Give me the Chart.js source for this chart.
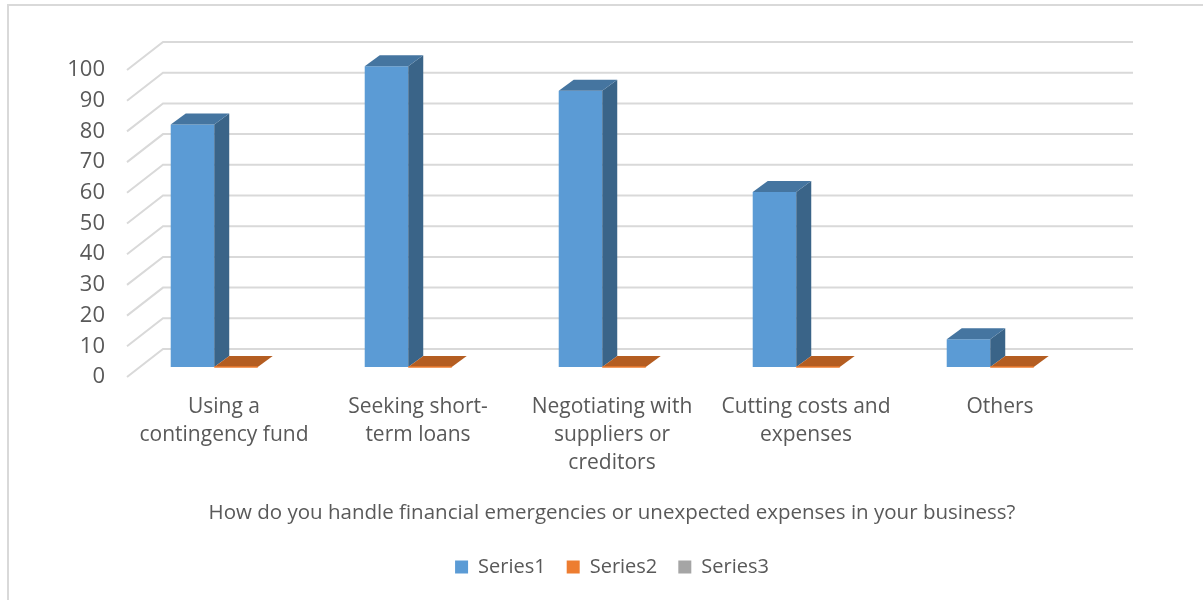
<!DOCTYPE html>
<html>
<head>
<meta charset="utf-8">
<script src="https://cdn.jsdelivr.net/npm/chart.js@4"></script>
<style>
    html, body { margin: 0; padding: 0; background: #fff; overflow: hidden; }
    #wrap { position: relative; width: 1203px; height: 600px; overflow: hidden; }
    #frame { position: absolute; left: 7px; top: 4px; width: 1220px; height: 620px; border: 2px solid #d9d9d9; }
    #myChart { position: absolute; left: 0; top: 0; }
</style>
</head>
<body>
<div id="wrap">
    <div id="frame"></div>
    <canvas id="myChart" width="1203" height="600"></canvas>
</div>
<script>
/*

Column chart with a fake 3D look: back wall grid, bar sides and tops.

*/

// Data
const categories = [
    ['Using a', 'contingency fund'],
    ['Seeking short-', 'term loans'],
    ['Negotiating with', 'suppliers or', 'creditors'],
    ['Cutting costs and', 'expenses'],
    ['Others']
];
const series1 = [79, 98, 90, 57, 9];
const series2 = [0, 0, 0, 0, 0];
const series3 = [null, null, null, null, null];
const yTicks = [0, 10, 20, 30, 40, 50, 60, 70, 80, 90, 100];
const axisTitle = 'How do you handle financial emergencies or unexpected expenses in your business?';

// Depth offsets, measured from the front edge of the floor
const wallBack = { x: 36, y: -28 };
const barPlane = { x: 12, y: -10 };
const barDepth = { x: 15, y: 11 };

const textColor = '#595959';
Chart.defaults.font.family = "'Open Sans', sans-serif";
Chart.defaults.color = textColor;

function fillPoly(ctx, pts) {
    ctx.beginPath();
    ctx.moveTo(pts[0][0], pts[0][1]);
    for (var k = 1; k < pts.length; k++) {
        ctx.lineTo(pts[k][0], pts[k][1]);
    }
    ctx.closePath();
    ctx.fill();
}

const threeD = {
    id: 'threeD',
    beforeDatasetsDraw(chart) {
        const ctx = chart.ctx;
        const area = chart.chartArea;
        const yScale = chart.scales.y;

        // Floor edge lines and back wall grid
        ctx.save();
        ctx.strokeStyle = '#d9d9d9';
        ctx.lineWidth = 2;
        yScale.ticks.forEach(function (t) {
            var py = yScale.getPixelForValue(t.value);
            ctx.beginPath();
            ctx.moveTo(area.left, py);
            ctx.lineTo(area.left + wallBack.x, py + wallBack.y);
            ctx.lineTo(area.right + wallBack.x, py + wallBack.y);
            ctx.stroke();
        });
        ctx.restore();

        // Bars stand a little behind the front edge
        ctx.save();
        ctx.translate(barPlane.x, barPlane.y);
    },
    afterDatasetsDraw(chart) {
        const ctx = chart.ctx;
        chart.data.datasets.forEach(function (ds, di) {
            var meta = chart.getDatasetMeta(di);
            meta.data.forEach(function (bar, i) {
                if (ds.data[i] === null) return;
                var l = bar.x - bar.width / 2;
                var r = bar.x + bar.width / 2;
                var top = bar.y;
                var base = bar.base;

                // Right side
                ctx.fillStyle = ds.sideColor;
                fillPoly(ctx, [[r, top], [r + barDepth.x, top - barDepth.y], [r + barDepth.x, base - barDepth.y], [r, base]]);
                // Top face
                ctx.fillStyle = ds.topColor;
                fillPoly(ctx, [[l, top], [l + barDepth.x, top - barDepth.y], [r + barDepth.x, top - barDepth.y], [r, top]]);

                // Zero bars still show a thin front edge
                if (ds.data[i] === 0) {
                    ctx.strokeStyle = ds.backgroundColor;
                    ctx.lineWidth = 1.5;
                    ctx.beginPath();
                    ctx.moveTo(l, base);
                    ctx.lineTo(r, base);
                    ctx.stroke();
                }
            });
        });
        ctx.restore();
    }
};

const ctx = document.getElementById('myChart').getContext('2d');
const myChart = new Chart(ctx, {
    type: 'bar',
    data: {
        labels: categories,
        datasets: [{
            label: 'Series1',
            data: series1,
            backgroundColor: '#5b9bd5',
            sideColor: '#3a6488',
            topColor: '#4575a0'
        }, {
            label: 'Series2',
            data: series2,
            backgroundColor: '#ed7d31',
            sideColor: '#9c5220',
            topColor: '#b45d21'
        }, {
            label: 'Series3',
            data: series3,
            backgroundColor: '#a5a5a5',
            sideColor: '#6e6e6e',
            topColor: '#8a8a8a'
        }]
    },
    options: {
        responsive: false,
        animation: false,
        layout: {
            padding: { top: 70, right: 106, bottom: 13, left: 0 }
        },
        datasets: {
            bar: {
                categoryPercentage: 0.673,
                barPercentage: 1,
                borderWidth: 0
            }
        },
        scales: {
            x: {
                grid: { display: false, drawTicks: false },
                border: { display: false },
                ticks: {
                    padding: 16,
                    maxRotation: 0,
                    autoSkip: false,
                    font: { size: 21, lineHeight: 1.33 }
                },
                title: {
                    display: true,
                    text: axisTitle,
                    font: { size: 20.5, lineHeight: 1.2 },
                    padding: { top: 0, bottom: 11 }
                },
                afterFit: function (scale) {
                    scale.height = 159;
                }
            },
            y: {
                min: 0,
                max: 100,
                grid: { display: false, drawTicks: false },
                border: { display: false },
                afterBuildTicks: function (scale) {
                    scale.ticks = yTicks.map(function (v) { return { value: v }; });
                },
                ticks: {
                    padding: 22,
                    font: { size: 22 }
                },
                afterFit: function (scale) {
                    scale.width = 127;
                }
            }
        },
        plugins: {
            legend: {
                position: 'bottom',
                fullSize: false,
                labels: {
                    boxWidth: 13,
                    boxHeight: 13,
                    padding: 21,
                    color: textColor,
                    font: { size: 20 }
                }
            },
            tooltip: { enabled: false }
        }
    },
    plugins: [threeD]
});
</script>
</body>
</html>
